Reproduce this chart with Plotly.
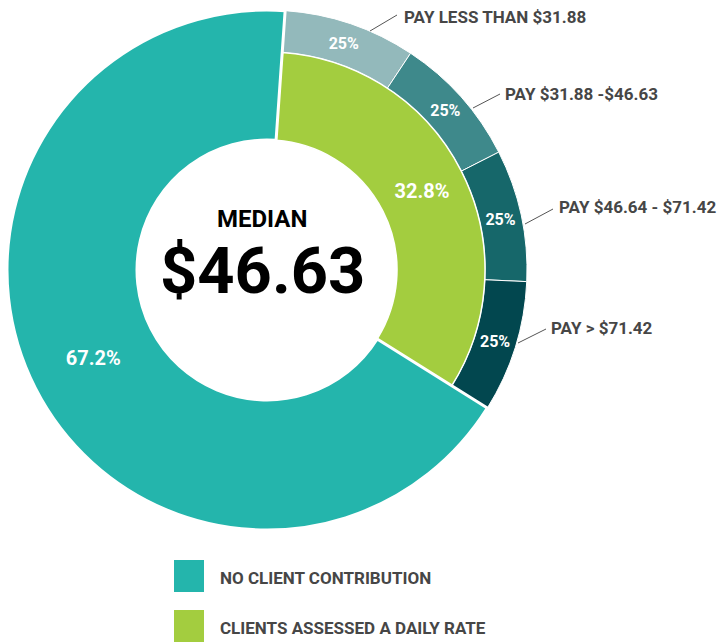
import plotly.graph_objects as go

# ---- data ----
categories = ["NO CLIENT CONTRIBUTION", "CLIENTS ASSESSED A DAILY RATE"]
category_pct = [67.2, 32.8]
ring_labels = ["PAY LESS THAN $31.88", "PAY $31.88 -$46.63", "PAY $46.64 - $71.42", "PAY > $71.42"]
ring_share = [25, 25, 25, 25]
median_label = "MEDIAN"
median_value = "$46.63"

# ---- styles ----
W, H = 720, 644
TEAL = "#24b5ac"
GREEN = "#a3cd3f"
RING_COLORS = ["#93b9bb", "#3e898b", "#16676a", "#02474f"]
TXT = "#464646"
FONT = "Roboto"
CX, CY = 267, 270
R_OUT, R_MID, R_IN = 260, 218, 130
ROT = 4


def dom(r):
    return dict(x=[(CX - r) / W, (CX + r) / W], y=[1 - (CY + r) / H, 1 - (CY - r) / H])


daily = category_pct[1]
nocon = category_pct[0]
ring_vals = [daily * s / 100 for s in ring_share] + [nocon]

fig = go.Figure()

# outer ring (quartiles of daily-rate group)
fig.add_trace(go.Pie(
    values=ring_vals, labels=ring_labels + ["_rest"], sort=False, direction="clockwise",
    rotation=ROT, hole=R_MID / R_OUT, domain=dom(R_OUT),
    marker=dict(colors=RING_COLORS + ["rgba(0,0,0,0)"],
                line=dict(color="white", width=[1, 1, 1, 1, 0])),
    text=[f"{s}%" for s in ring_share] + [""], textinfo="text",
    textposition="inside", insidetextorientation="horizontal",
    insidetextfont=dict(family=FONT, size=16, color="white", weight="bold"),
    showlegend=False, hoverinfo="skip",
))

# green inner segment
fig.add_trace(go.Pie(
    values=[daily, nocon], labels=[categories[1], "_rest2"], sort=False, direction="clockwise",
    rotation=ROT, hole=R_IN / R_MID, domain=dom(R_MID),
    marker=dict(colors=[GREEN, "rgba(0,0,0,0)"], line=dict(color="white", width=[1.5, 0])),
    text=[f"{daily}%", ""], textinfo="text",
    textposition="inside", insidetextorientation="horizontal",
    insidetextfont=dict(family=FONT, size=20, color="white", weight="bold"),
    showlegend=False, hoverinfo="skip",
))

# teal full-radius segment
fig.add_trace(go.Pie(
    values=[daily, nocon], labels=["_g", categories[0]], sort=False, direction="clockwise",
    rotation=ROT, hole=R_IN / R_OUT, domain=dom(R_OUT),
    marker=dict(colors=["rgba(0,0,0,0)", TEAL], line=dict(color="white", width=[0, 3])),
    text=["", f"{nocon}%"], textinfo="text",
    textposition="inside", insidetextorientation="horizontal",
    insidetextfont=dict(family=FONT, size=20, color="white", weight="bold"),
    showlegend=False, hoverinfo="skip",
))

shapes = []
annotations = []

def px(x):
    return x / W

def py(y):
    return 1 - y / H

# leader lines and labels
leaders = [((370, 31), (397, 15)), ((473, 108), (500, 94)), ((525, 224), (553, 209)), ((518, 343), (546, 329))]
label_pos = [(402, 17), (503, 94), (557, 207), (549, 328)]
for (a, b), (lx, ly), lab in zip(leaders, label_pos, ring_labels):
    shapes.append(dict(type="line", xref="paper", yref="paper", x0=px(a[0]), y0=py(a[1]),
                       x1=px(b[0]), y1=py(b[1]), line=dict(color="#555555", width=1)))
    annotations.append(dict(text=lab, x=px(lx), y=py(ly), xref="paper", yref="paper",
                            xanchor="left", yanchor="middle", showarrow=False,
                            font=dict(family=FONT, size=17, color=TXT, weight="bold")))

# center text
annotations.append(dict(text=median_label, x=px(262), y=py(219), xref="paper", yref="paper",
                        xanchor="center", yanchor="middle", showarrow=False,
                        font=dict(family=FONT, size=24, color="black", weight="bold")))
annotations.append(dict(text=median_value, x=px(262), y=py(271), xref="paper", yref="paper",
                        xanchor="center", yanchor="middle", showarrow=False,
                        font=dict(family=FONT, size=65, color="black", weight="bold")))

# legend
leg_y = [576, 626]
for cat, col, yy in zip(categories, [TEAL, GREEN], leg_y):
    shapes.append(dict(type="rect", xref="paper", yref="paper", x0=px(174), x1=px(204),
                       y0=py(yy + 16), y1=py(yy - 16), fillcolor=col, line=dict(width=0)))
    annotations.append(dict(text=cat, x=px(218), y=py(yy + 2), xref="paper", yref="paper",
                            xanchor="left", yanchor="middle", showarrow=False,
                            font=dict(family=FONT, size=17, color=TXT, weight="bold")))

fig.update_layout(width=W, height=H, margin=dict(l=0, r=0, t=0, b=0),
                  paper_bgcolor="white", plot_bgcolor="white",
                  shapes=shapes, annotations=annotations, showlegend=False)

fig.write_html("out.html", config={"displayModeBar": False},
               post_script="document.body.style.margin='0';")
